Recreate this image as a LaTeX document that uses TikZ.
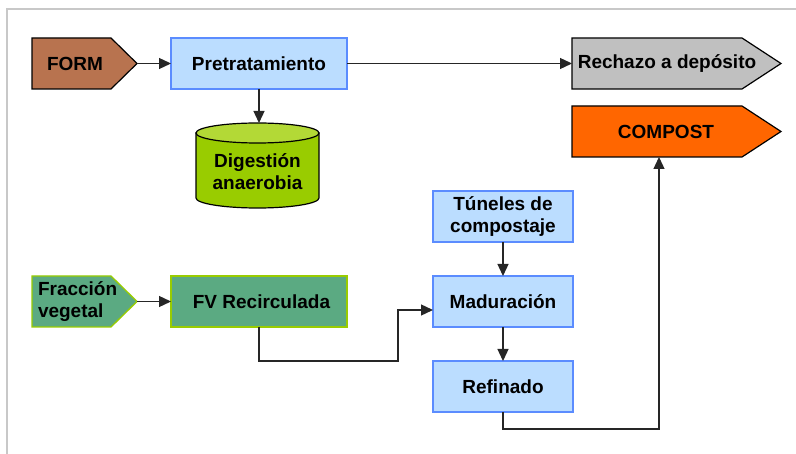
\documentclass[tikz,border=0pt]{standalone}
\usepackage{fontspec}
\setmainfont{Liberation Sans}
\usetikzlibrary{arrows.meta,backgrounds}
\definecolor{framec}{HTML}{C8C8C8}
\definecolor{formc}{HTML}{B8734F}
\definecolor{bluefill}{HTML}{BBDDFF}
\definecolor{blueline}{HTML}{5B8CFF}
\definecolor{cylc}{HTML}{99CC00}
\definecolor{cyltop}{HTML}{B3D936}
\definecolor{grayc}{HTML}{C0C0C0}
\definecolor{orangec}{HTML}{FF6600}
\definecolor{greenc}{HTML}{5BAA82}
\definecolor{limec}{HTML}{99CC00}
\newcommand\pentashape[3]{%
  \draw[#3] (#1.north west) -- ([xshift=-#2pt]#1.north east) -- (#1.east)
    -- ([xshift=-#2pt]#1.south east) -- (#1.south west) -- cycle;}
\begin{document}
\begin{tikzpicture}[x=1pt,y=-1pt,
  font=\fontsize{19}{22}\selectfont\bfseries,
  base/.style={rectangle, anchor=north west, inner sep=0pt, outer sep=0pt,
    minimum height=51pt, align=center},
  procbox/.style={base, draw=blueline, fill=bluefill, line width=1.3pt, minimum width=140pt},
  fvbox/.style={base, draw=limec, fill=greenc, line width=1.3pt, minimum width=176pt},
  pentbox/.style={base, minimum width=#1},
  conn/.style={draw=black!85, line width=1.3pt},
  arr/.style={conn, -{Triangle[length=12pt,width=11pt]}},
  shapeline/.style={draw=black, line width=1.2pt}
]
\useasboundingbox (0,0) rectangle (796,454);
\draw[framec, line width=2.5pt] (7,454) -- (7,9) -- (796,9);

% nodes
\node[pentbox=105pt] (form) at (32,38) {FORM\hspace{19pt}};
\node[procbox, minimum width=176pt] (pre) at (171,38) {Pretratamiento};
\node[pentbox=209pt] (rech) at (572,38) {Rechazo a depósito\hspace{19pt}};
\node[pentbox=209pt] (comp) at (572,106) {COMPOST\hspace{21pt}};
\node[base, minimum width=123pt, minimum height=75pt] (dig) at (196,134) {Digestión\\anaerobia};
\node[procbox] (tun) at (433,191) {Túneles de\\compostaje};
\node[procbox] (mad) at (433,276) {Maduración};
\node[procbox] (ref) at (433,361) {Refinado};
\node[pentbox=105pt, text width=93pt, inner xsep=6pt, align=left] (fv) at (32,276) {Fracción\\vegetal};
\node[fvbox] (fvr) at (171,276) {FV Recirculada\hspace{-5pt}};

% shapes behind
\begin{scope}[on background layer]
  \pentashape{form}{26}{shapeline, fill=formc}
  \pentashape{rech}{39}{shapeline, fill=grayc}
  \pentashape{comp}{39}{shapeline, fill=orangec}
  \pentashape{fv}{26}{draw=limec, line width=1.3pt, fill=greenc}
  \draw[shapeline, fill=cylc] (196,133) -- (196,198)
     arc[start angle=180, end angle=360, x radius=61.5pt, y radius=10pt]
     -- (319,133) -- cycle;
  \draw[shapeline, fill=cyltop] (257.5,133) ellipse [x radius=61.5pt, y radius=10pt];
\end{scope}

% connectors
\coordinate (digtop) at ([yshift=11pt]dig.north);
\coordinate (madin) at ([yshift=-8.5pt]mad.west);
\coordinate (compin) at ([xshift=87pt]comp.south west);
\draw[arr] (form.east) -- (pre.west);
\draw[arr] (pre.east) -- (rech.west);
\draw[arr] (pre.south) -- (pre.south |- digtop);
\draw[arr] (fv.east) -- (fvr.west);
\draw[arr] (fvr.south) |- (398,361) |- (madin);
\draw[arr] (tun.south) -- (mad.north);
\draw[arr] (mad.south) -- (ref.north);
\draw[arr] (ref.south) -- (503,429) -| (compin);
\end{tikzpicture}
\end{document}
